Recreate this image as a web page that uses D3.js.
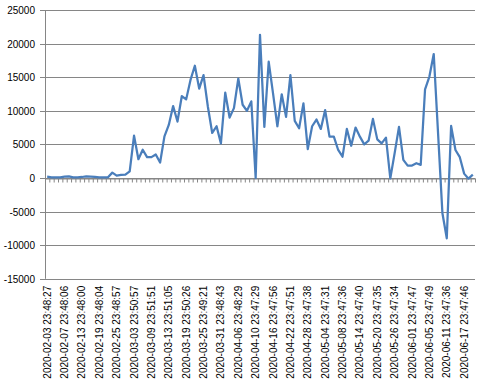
<!DOCTYPE html>
<html>
<head>
<meta charset="utf-8">
<script src="https://cdnjs.cloudflare.com/ajax/libs/d3/7.8.5/d3.min.js"></script>
<style>
	body { margin: 0; background: #fff; }
	text { font-family: "Liberation Sans", Arial, sans-serif; font-size: 10px; fill: #000; }
</style>
</head>
<body>
<div id="chart"></div>
<script>

// daily values, one per category (99 categories)
var values = [
	200, 100, 100, 100, 200, 250, 100, 100, 150, 250,
	200, 150, 100, 100, 100, 800, 350, 450, 500, 1000,
	6300, 2800, 4200, 3100, 3100, 3500, 2300, 6200, 7900, 10700,
	8400, 12200, 11700, 14600, 16700, 13300, 15300, 10600, 6700, 7700,
	5150, 12700, 9000, 10400, 14800, 10900, 10000, 11400, 0, 21300,
	7600, 17300, 12600, 7700, 12450, 9100, 15300, 8500, 7400, 11100,
	4300, 7700, 8700, 7300, 10100, 6150, 6150, 4170, 3170, 7300,
	4800, 7500, 6150, 5000, 5550, 8800, 5750, 5150, 6000, -50,
	3700, 7600, 2700, 1850, 1850, 2200, 1950, 13200, 15100, 18450,
	6600, -5250, -8970, 7740, 4170, 3100, 650, -100, 500
];

// every 4th category carries a label
var tickLabels = [
	"2020-02-03 23:48:27", "2020-02-07 23:48:06", "2020-02-13 23:48:00",
	"2020-02-19 23:48:04", "2020-02-25 23:48:57", "2020-03-03 23:50:57",
	"2020-03-09 23:51:51", "2020-03-13 23:51:05", "2020-03-19 23:50:26",
	"2020-03-25 23:49:21", "2020-03-31 23:48:43", "2020-04-06 23:48:29",
	"2020-04-10 23:47:29", "2020-04-16 23:47:56", "2020-04-22 23:47:51",
	"2020-04-28 23:47:38", "2020-05-04 23:47:31", "2020-05-08 23:47:36",
	"2020-05-14 23:47:40", "2020-05-20 23:47:35", "2020-05-26 23:47:34",
	"2020-06-01 23:47:47", "2020-06-05 23:47:49", "2020-06-11 23:47:36",
	"2020-06-17 23:47:46"
];

var yTicks = [-15000, -10000, -5000, 0, 5000, 10000, 15000, 20000, 25000];

var width = 486;
var height = 380;

var margin = {
	top: 10,
	left: 45,
	right: 11,
	bottom: 101.2
};

var gridColour = "#868686";

var svg = d3.select("#chart")
	.append("svg")
	.attr("width", width)
	.attr("height", height);

var x = d3.scaleLinear()
	.domain([0, values.length])
	.range([margin.left, width - margin.right]);

var y = d3.scaleLinear()
	.domain([-15000, 25000])
	.range([height - margin.bottom, margin.top]);

// horizontal gridlines (with small outside ticks)
svg.append("g")
	.attr("class", "grid")
	.selectAll("line")
	.data(yTicks)
	.enter()
	.append("line")
	.attr("x1", margin.left - 5)
	.attr("x2", width - margin.right)
	.attr("y1", function(d) { return Math.round(y(d)) + 0.5; })
	.attr("y2", function(d) { return Math.round(y(d)) + 0.5; })
	.style("stroke", gridColour)
	.style("stroke-width", 1);

// y labels
svg.append("g")
	.attr("class", "ylabels")
	.selectAll("text")
	.data(yTicks)
	.enter()
	.append("text")
	.attr("x", margin.left - 10)
	.attr("y", function(d) { return Math.round(y(d)) + 0.5; })
	.attr("dy", "0.35em")
	.style("text-anchor", "end")
	.text(function(d) { return d; });

// vertical axis line
svg.append("line")
	.attr("x1", margin.left + 0.5)
	.attr("x2", margin.left + 0.5)
	.attr("y1", y(25000))
	.attr("y2", y(-15000))
	.style("stroke", gridColour);

// category axis sits on zero, ticks at category boundaries
var xAxis = d3.axisBottom(x)
	.tickValues(d3.range(values.length + 1))
	.tickSize(4)
	.tickSizeOuter(0)
	.tickFormat("");

var axisG = svg.append("g")
	.attr("transform", "translate(0," + (Math.round(y(0)) + 0.5) + ")")
	.call(xAxis);

axisG.select(".domain").style("stroke", gridColour);
axisG.selectAll(".tick line").style("stroke", gridColour);

// category labels at the bottom, rotated
svg.append("g")
	.attr("class", "xlabels")
	.selectAll("text")
	.data(tickLabels)
	.enter()
	.append("text")
	.attr("transform", function(d, i) {
		return "translate(" + x(i * 4 + 0.5) + "," + (y(-15000) + 7) + ") rotate(-90)";
	})
	.attr("dy", "0.35em")
	.style("text-anchor", "end")
	.text(function(d) { return d; });

var line = d3.line()
	.x(function(d, i) { return x(i + 0.5); })
	.y(function(d) { return y(d); });

svg.append("path")
	.datum(values)
	.attr("d", line)
	.style("fill", "none")
	.style("stroke", "#4a7ebb")
	.style("stroke-width", 2.25)
	.style("stroke-linejoin", "round");

</script>
</body>
</html>
